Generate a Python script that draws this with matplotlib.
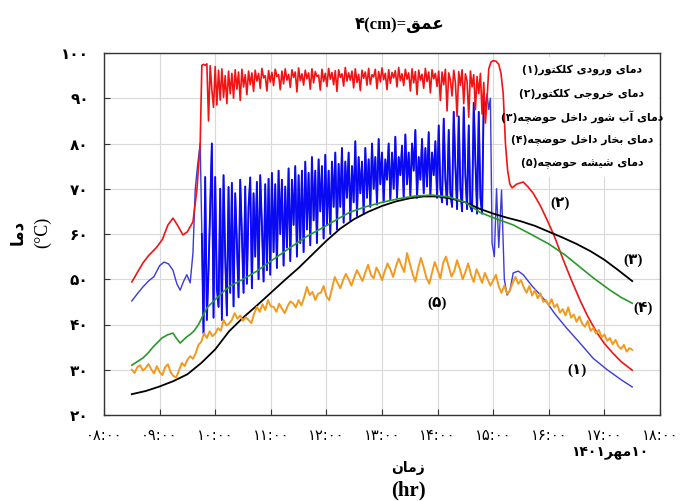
import numpy as np
import matplotlib
matplotlib.use('Agg')
from matplotlib import pyplot as plt
from matplotlib.patches import Rectangle

# ---- data (time in hours, temperature in degC) ----

# (1) collector inlet - smooth start, oscillating middle, smooth end
blue_pre_t = [8.50, 8.60, 8.70, 8.80, 8.90, 9.00, 9.08, 9.16, 9.24, 9.31, 9.37, 9.43,
              9.49, 9.55, 9.60, 9.64, 9.68, 9.73]
blue_pre_v = [45.2, 46.8, 48.3, 49.6, 50.6, 53.0, 53.8, 53.4, 52.0, 49.0, 47.6, 49.5,
              51.0, 49.2, 55.8, 69.7, 74.8, 80.0]
blue_osc_t0 = 9.76
blue_osc_dt = 0.03
blue_osc_v = [60, 38, 72.6, 41, 52, 66, 80, 41.5, 72.6, 48, 43.9, 70, 41, 73, 55, 42, 70.4, 47, 71.3, 44, 69,
              58, 46, 72, 60, 47, 70.5, 49, 66, 72.5, 48, 69, 55, 71.5, 50, 73, 62, 49.5, 71, 52, 72.2,
              51, 73.5, 56, 71, 52.5, 74, 60, 72, 53, 70.5, 57, 74.5, 54, 72, 62, 75, 55, 73, 58, 74,
              56, 76, 61, 73.5, 57.5, 77, 63, 74, 58, 76.5, 65, 75, 59, 77.5, 62, 74, 60, 76, 66, 78,
              61, 75.5, 66, 79, 62.5, 76, 68, 78, 63, 75, 67, 80.5, 64, 77, 69, 76, 64.5, 79, 68, 76.5,
              66, 80, 70, 77, 66.5, 81, 71, 78, 67, 76.5, 72, 80, 67.5, 78, 70, 81.5, 68, 77, 73, 79.5,
              68, 82, 71, 78, 68.5, 80, 74, 83, 68, 77, 72, 81, 69, 79, 70.5, 82.5, 68.5, 78, 73, 80.5,
              68, 84, 70, 67, 85.5, 72, 66.5, 83, 69, 66, 87, 75, 65.5, 86, 70, 65, 88, 73, 65.5, 84,
              66, 65, 89, 76, 64.5, 87, 68, 64.5, 90, 88]
blue_end_t = [14.89, 14.92, 14.95, 14.98, 15.02, 15.06, 15.10, 15.15, 15.20, 15.25, 15.30, 15.36,
              15.45, 15.54, 15.70, 15.85, 15.97, 16.10, 16.30, 16.56, 16.80, 17.05, 17.30, 17.50]
blue_end_v = [91, 87.5, 90, 58, 55, 70, 57, 69.7, 50, 46.5, 47.5, 51.4,
              51.8, 51, 48.5, 46.5, 44.8, 42.5, 39.5, 35.9, 32.5, 30, 27.8, 26.2]

# (2) collector outlet
red_pre_t = [8.50, 8.60, 8.70, 8.80, 8.95, 9.05, 9.15, 9.24, 9.32, 9.42, 9.50, 9.60, 9.67, 9.73, 9.76]
red_pre_v = [49.4, 51.5, 53.6, 55.2, 57.1, 58.8, 62.0, 63.5, 62.0, 59.8, 60.5, 62.7, 69.7, 80.0, 97.3]
red_osc_t0 = 9.79
red_osc_dt = 0.03
red_osc_v = [97.5, 97.3, 97.6, 85.0, 97.2, 91.8, 88.0, 97.0, 88.5, 96.2, 89.6, 96.5, 90.2, 95.0, 88.8, 96.0,
             91.0, 95.5, 90.0, 96.3, 92.0, 95.8, 89.5, 96.4, 92.5, 95.2, 90.8, 96.0, 93.0, 95.6, 91.5,
             96.2, 93.8, 95.5, 92.2, 96.6, 94.5, 95.0, 91.6, 96.1, 93.6, 95.7, 92.8, 96.4, 94.8, 95.2,
             91.9, 96.0, 93.2, 96.5, 94.0, 95.3, 92.4, 96.3, 94.6, 95.8, 91.4, 96.7, 93.9, 95.4, 92.9,
             96.2, 94.3, 95.6, 92.0, 96.5, 93.4, 95.9, 94.8, 95.1, 91.8, 96.4, 93.7, 95.5, 92.6, 96.6,
             94.2, 95.7, 93.0, 96.1, 91.5, 96.3, 94.6, 95.4, 92.7, 96.8, 93.8, 95.6, 94.0, 96.0, 92.3,
             96.5, 93.5, 95.3, 91.7, 96.2, 94.4, 95.8, 92.9, 96.6, 93.1, 95.2, 94.7, 96.4, 92.1, 95.9,
             93.6, 96.7, 94.1, 95.5, 91.9, 96.3, 93.3, 95.7, 94.5, 96.1, 92.5, 96.8, 93.9, 95.4, 92.8,
             96.4, 94.2, 95.6, 91.6, 96.5, 93.4, 95.9, 90.8, 96.2, 94.0, 95.3, 92.2, 96.6, 93.7, 95.8,
             91.2, 96.3, 94.3, 95.5, 92.6,
             96.0, 89.5, 95.8, 93.0, 96.4, 87.2, 95.6, 94.0, 90.5, 96.2, 93.5, 86.0, 95.9, 92.8, 96.3,
             88.8, 95.4, 93.8, 85.8, 96.0, 92.5, 95.2, 87.5, 94.8, 91.0, 95.5, 86.5, 93.5, 84.5, 90.0]
red_end_t = [14.92, 14.96, 15.00, 15.05, 15.10, 15.14, 15.18, 15.22, 15.26, 15.30, 15.34, 15.42,
             15.54, 15.62, 15.72, 15.85, 15.97, 16.10, 16.26, 16.40, 16.56, 16.70, 16.87, 17.00,
             17.15, 17.30, 17.50]
red_end_v = [96.5, 98.0, 98.3, 98.2, 97.5, 95.5, 91.0, 80.0, 74.0, 71.0, 70.2, 71.0,
             71.5, 70.5, 69.0, 66.2, 63.1, 59.5, 54.3, 50.0, 45.4, 41.8, 38.1, 35.8,
             33.7, 31.8, 29.9]

# (3) brine in basin
black_t = [8.50, 8.75, 9.00, 9.25, 9.50, 9.75, 10.00, 10.25, 10.50, 10.75, 11.00, 11.25, 11.50,
           11.75, 12.00, 12.25, 12.50, 12.75, 13.00, 13.25, 13.50, 13.75, 14.00, 14.25, 14.50,
           14.75, 15.00, 15.25, 15.50, 15.75, 16.00, 16.25, 16.50, 16.75, 17.00, 17.25, 17.50]
black_v = [24.6, 25.3, 26.3, 27.5, 29.0, 31.5, 34.5, 38.5, 41.5, 44.2, 47.0, 49.8, 52.5,
           55.5, 58.5, 61.2, 63.3, 64.9, 66.2, 67.2, 67.9, 68.3, 68.3, 67.8, 67.0,
           65.6, 64.5, 63.6, 62.8, 61.8, 60.5, 59.2, 57.8, 56.2, 54.3, 52.0, 49.6]

# (4) vapour in basin
green_t = [8.50, 8.60, 8.70, 8.80, 8.88, 8.96, 9.04, 9.14, 9.24, 9.30, 9.37, 9.43, 9.49, 9.55,
           9.62, 9.70, 9.78, 9.86, 10.00, 10.14, 10.27, 10.50, 10.75, 11.00, 11.35, 11.65, 11.95,
           12.20, 12.42, 12.70, 13.00, 13.30, 13.60, 13.90, 14.20, 14.50, 14.76, 15.00, 15.36,
           15.70, 16.00, 16.30, 16.56, 16.80, 17.10, 17.30, 17.50]
green_v = [31.0, 31.8, 32.6, 33.8, 35.0, 36.0, 37.0, 37.7, 38.1, 37.0, 35.9, 36.6, 37.3, 37.8,
           38.6, 40.0, 42.0, 43.8, 45.5, 47.2, 48.5, 50.0, 51.8, 54.0, 57.0, 59.5, 61.5,
           63.3, 64.8, 66.0, 67.0, 67.8, 68.4, 68.6, 68.2, 67.0, 64.8, 63.6, 62.0,
           59.8, 57.8, 55.3, 52.7, 50.3, 47.6, 46.0, 44.7]

# (5) basin glass, sampled every 3 minutes from 8:30
orange_t0 = 8.5
orange_dt = 0.05
orange_v = [30.0, 29.3, 30.6, 31.0, 29.8, 30.4, 31.3, 30.1, 29.2, 30.8,
            29.5, 28.8, 30.6, 31.2, 29.4, 28.6, 28.3, 29.9, 31.5, 30.8,
            32.2, 33.0, 32.4, 33.7, 35.5, 36.2, 38.1, 37.0, 38.5, 37.4,
            38.0, 39.2, 38.6, 41.0, 39.8, 40.2, 41.0, 42.5, 41.3, 42.0,
            40.8, 41.6, 41.0, 40.3, 42.4, 43.9, 42.8, 44.5, 43.2, 45.4,
            44.0, 43.9, 42.8, 44.6, 43.5, 42.5, 44.0, 45.1, 44.7, 43.8,
            45.4, 44.2, 46.0, 48.3, 46.5, 47.2, 45.4, 46.8, 47.0, 48.5,
            46.2, 45.4, 48.0, 50.5, 49.2, 48.0, 49.8, 51.2, 50.0, 48.6,
            50.4, 52.0, 50.8, 49.6, 51.5, 53.2, 51.0, 50.2, 52.6, 51.4,
            49.8, 51.8, 53.5, 52.2, 50.5, 52.8, 54.6, 53.0, 51.6, 55.8,
            53.5, 51.2, 49.5, 52.4, 54.7, 52.6, 50.3, 49.0, 51.5, 53.8,
            52.0, 50.2, 53.6, 55.0, 52.8, 50.6, 51.8, 54.2, 52.3, 50.0,
            51.6, 53.5, 51.0, 49.4, 52.2, 50.8, 49.2, 51.4, 50.0, 48.6,
            49.8, 51.0, 48.4, 47.0, 48.6, 46.8, 47.5, 49.2, 50.5, 49.0,
            49.8, 48.2, 47.0, 48.5, 46.4, 47.6, 45.8, 46.9, 45.0, 45.4,
            44.2, 45.6, 43.8, 44.5, 42.6, 43.4, 42.0, 43.8, 41.5, 42.2,
            40.6, 41.8, 40.2, 39.5, 40.8, 38.6, 39.2, 38.0, 38.8, 37.2,
            37.8, 36.4, 37.0, 35.6, 36.6, 35.2, 34.6, 35.5, 34.0, 34.8,
            34.4]

x_ticks = [8, 9, 10, 11, 12, 13, 14, 15, 16, 17, 18]
y_ticks = [20, 30, 40, 50, 60, 70, 80, 90, 100]
legend_names = ['دمای ورودی کلکتور', 'دمای خروجی کلکتور', 'دمای آب شور داخل حوضچه',
                'دمای بخار داخل حوضچه', 'دمای شیشه حوضچه']

# ---- persian text: matplotlib does no shaping, so pick the joined glyph forms by hand ----
FORMS = {  # isolated, final, initial, medial
    'آ': ('\uFE81', '\uFE82', None, None),
    'ا': ('\uFE8D', '\uFE8E', None, None),
    'ب': ('\uFE8F', '\uFE90', '\uFE91', '\uFE92'),
    'ت': ('\uFE95', '\uFE96', '\uFE97', '\uFE98'),
    'ج': ('\uFE9D', '\uFE9E', '\uFE9F', '\uFEA0'),
    'چ': ('\uFB7A', '\uFB7B', '\uFB7C', '\uFB7D'),
    'ح': ('\uFEA1', '\uFEA2', '\uFEA3', '\uFEA4'),
    'خ': ('\uFEA5', '\uFEA6', '\uFEA7', '\uFEA8'),
    'د': ('\uFEA9', '\uFEAA', None, None),
    'ر': ('\uFEAD', '\uFEAE', None, None),
    'ز': ('\uFEAF', '\uFEB0', None, None),
    'ش': ('\uFEB5', '\uFEB6', '\uFEB7', '\uFEB8'),
    'ض': ('\uFEBD', '\uFEBE', '\uFEBF', '\uFEC0'),
    'ع': ('\uFEC9', '\uFECA', '\uFECB', '\uFECC'),
    'ق': ('\uFED5', '\uFED6', '\uFED7', '\uFED8'),
    'ک': ('\uFB8E', '\uFB8F', '\uFB90', '\uFB91'),
    'ل': ('\uFEDD', '\uFEDE', '\uFEDF', '\uFEE0'),
    'م': ('\uFEE1', '\uFEE2', '\uFEE3', '\uFEE4'),
    'ن': ('\uFEE5', '\uFEE6', '\uFEE7', '\uFEE8'),
    'ه': ('\uFEE9', '\uFEEA', '\uFEEB', '\uFEEC'),
    'و': ('\uFEED', '\uFEEE', None, None),
    'ی': ('\uFBFC', '\uFBFD', '\uFBFE', '\uFBFF'),
}
FORMS['\u064A'] = FORMS['ی']
FORMS['\u0643'] = FORMS['ک']


def rtl(s):
    out = []
    for i, ch in enumerate(s):
        if ch not in FORMS:
            out.append(ch)
            continue
        prev = s[i - 1] if i > 0 else ''
        nxt = s[i + 1] if i + 1 < len(s) else ''
        join_prev = prev in FORMS and FORMS[prev][2] is not None
        join_next = nxt in FORMS and FORMS[ch][2] is not None
        iso, fin, ini, med = FORMS[ch]
        if join_prev and join_next:
            out.append(med)
        elif join_prev:
            out.append(fin)
        elif join_next:
            out.append(ini)
        else:
            out.append(iso)
    return ''.join(reversed(out))


def fa(n):
    return str(n).translate(str.maketrans('0123456789', '۰۱۲۳۴۵۶۷۸۹'))


# ---- build the series ----
blue_osc_t = blue_osc_t0 + blue_osc_dt * np.arange(len(blue_osc_v))
blue_t = np.concatenate([blue_pre_t, blue_osc_t, blue_end_t])
blue_v = np.concatenate([blue_pre_v, blue_osc_v, blue_end_v])
red_t = np.concatenate([red_pre_t, red_osc_t0 + red_osc_dt * np.arange(len(red_osc_v)), red_end_t])
red_v = np.concatenate([red_pre_v, red_osc_v, red_end_v])
orange_t = orange_t0 + orange_dt * np.arange(len(orange_v))

plt.rcParams['font.family'] = ['DejaVu Sans']
W, H = 687, 501
fig = plt.figure(figsize=(W / 100, H / 100), dpi=100)
ax = fig.add_axes([104 / W, 1 - 415 / H, 556 / W, 362 / H])

ax.plot(blue_t, blue_v, color='#3a3ad8', lw=1.0, zorder=3)
ax.plot(blue_osc_t, blue_osc_v, color='#0a0af2', lw=1.35, zorder=3)
ax.plot(red_t, red_v, color='#f01414', lw=1.2, zorder=3)
ax.plot(black_t, black_v, color='black', lw=1.3, zorder=4)
ax.plot(green_t, green_v, color='#2a982a', lw=1.2, zorder=4)
ax.plot(orange_t, orange_v, color='#f39a1e', lw=1.4, zorder=5)

ax.set_xlim(8, 18)
ax.set_ylim(20, 100)
ax.set_xticks(x_ticks)
ax.set_xticklabels([fa('%02d:00' % h) for h in x_ticks], fontsize=10.5)
ax.set_yticks(y_ticks)
ax.set_yticklabels([fa(v) for v in y_ticks], fontsize=11, fontweight='bold')
ax.tick_params(direction='in', length=4, width=0.8, colors='#333333', labelcolor='black')
ax.tick_params(axis='x', pad=9)
ax.tick_params(axis='y', pad=11)
ax.grid(True, color='#d9d9d9', lw=0.8)
ax.set_axisbelow(True)
for sp in ax.spines.values():
    sp.set_color('#333333')
    sp.set_linewidth(1.0)

# legend: text block on white, no markers
ax.add_patch(Rectangle((503 / W, 1 - 177 / H), 156 / W, 120 / H, transform=fig.transFigure,
                       facecolor='white', edgecolor='none', zorder=1))
nums = ['۱', '۲', '۳', '۴', '۵']
for k, name in enumerate(legend_names):
    yy = [70, 94, 117, 140, 163][k]
    fig.text(582 / W, 1 - yy / H, '(' + nums[k] + ')' + rtl(name), ha='center', va='center',
             fontsize=7.8, fontweight='bold', zorder=6)

# curve labels
lab_font = dict(fontsize=11, fontweight='bold', family=['Liberation Serif', 'DejaVu Sans'],
                ha='center', va='center', zorder=6)
ax.text(16.51, 29.9, '(۱)', **lab_font)
ax.text(16.20, 66.9, '(۲)', **lab_font)
ax.text(17.51, 54.3, '(۳)', **lab_font)
ax.text(17.69, 43.6, '(۴)', **lab_font)
ax.text(13.99, 44.8, '(۵)', **lab_font)

# titles and axis names
fig.text(400 / W, 1 - 25 / H, '۴(cm)=' + rtl('عمق'), ha='center', va='center', fontsize=12,
         fontweight='bold', family=['Liberation Serif', 'DejaVu Sans'])
fig.text(17 / W, 1 - 232 / H, rtl('دما'), rotation=90, ha='center', va='center', fontsize=12,
         fontweight='bold')
fig.text(43 / W, 1 - 232 / H, '(°C)', rotation=90, ha='center', va='center', fontsize=13,
         family=['Liberation Serif'])
fig.text(408 / W, 1 - 468 / H, rtl('زمان'), ha='center', va='center', fontsize=10, fontweight='bold')
fig.text(408 / W, 1 - 490 / H, '(hr)', ha='center', va='center', fontsize=15, fontweight='bold',
         family=['Liberation Serif'])
fig.text(610 / W, 1 - 452 / H, '۱۴۰۱' + rtl('مهر') + '۱۰', ha='center', va='center', fontsize=10,
         fontweight='bold')

fig.savefig('out.png', dpi=100)
